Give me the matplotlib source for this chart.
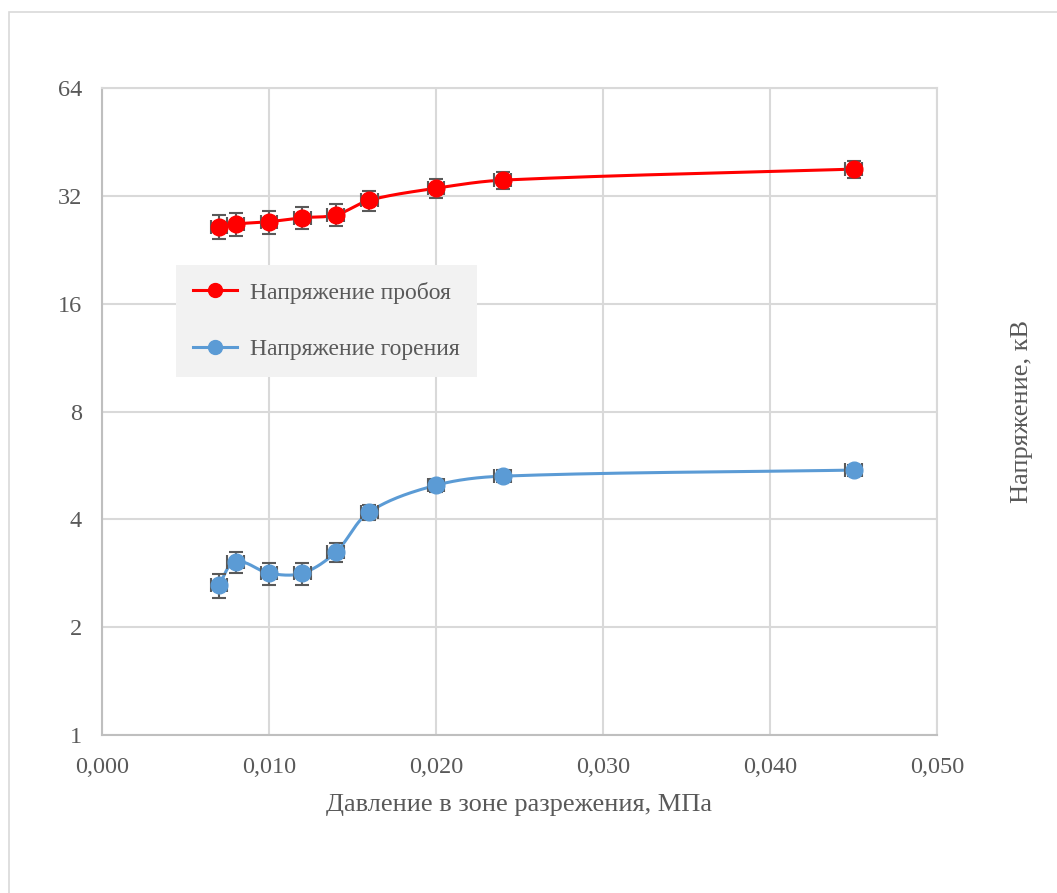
import numpy as np
import matplotlib.pyplot as plt
from matplotlib.patches import Rectangle
from matplotlib.ticker import FixedLocator, FuncFormatter

# данные
pressure = [0.007, 0.008, 0.010, 0.012, 0.014, 0.016, 0.020, 0.024, 0.045]
u_breakdown = [26.2, 26.7, 27.1, 27.8, 28.3, 31.1, 33.6, 35.4, 38.0]
u_burning = [2.62, 3.04, 2.83, 2.83, 3.24, 4.19, 4.98, 5.28, 5.49]
err_breakdown = 2.0
err_burning = 0.2
err_pressure = 0.0005
y_ticks = [1, 2, 4, 8, 16, 32, 64]
x_ticks = [0.0, 0.01, 0.02, 0.03, 0.04, 0.05]


def smooth(x, y, n=40):
    # сглаженная линия (Bezier), считаем в "пиксельных" координатах
    sx, sy = 835 / 0.05, 107.8
    P = np.column_stack([np.array(x) * sx, np.log2(np.array(y)) * sy])
    m = len(P)
    d = []
    for i in range(m):
        a, b = P[max(i - 1, 0)], P[min(i + 1, m - 1)]
        v = b - a
        d.append(v / np.linalg.norm(v))
    out = []
    t = np.linspace(0, 1, n)[:, None]
    for i in range(m - 1):
        L = np.linalg.norm(P[i + 1] - P[i])
        c1 = P[i] + d[i] * L / 3
        c2 = P[i + 1] - d[i + 1] * L / 3
        b = ((1 - t) ** 3 * P[i] + 3 * (1 - t) ** 2 * t * c1
             + 3 * (1 - t) * t ** 2 * c2 + t ** 3 * P[i + 1])
        out.append(b)
    out = np.vstack(out)
    return out[:, 0] / sx, 2 ** (out[:, 1] / sy)


plt.rcParams['font.family'] = ['Liberation Serif', 'DejaVu Serif']
txt = '#595959'

fig = plt.figure(figsize=(10.57, 8.93), dpi=100)
ax = fig.add_axes([102 / 1057, 1 - 735 / 893, 835 / 1057, 647 / 893])

# внешняя рамка
fig.patches.append(Rectangle((9 / 1057, -0.1), 1.2, 0.1 + (893 - 12) / 893,
                             transform=fig.transFigure, fill=False,
                             edgecolor='#D9D9D9', lw=1.2))

series = [
    (u_breakdown, err_breakdown, '#FF0000', 'Напряжение пробоя'),
    (u_burning, err_burning, '#5B9BD5', 'Напряжение горения'),
]
for vals, err, col, name in series:
    sx, sy = smooth(pressure, vals)
    ax.plot(sx, sy, color=col, lw=2.2, zorder=3)
    ax.errorbar(pressure, vals, yerr=err, xerr=err_pressure, fmt='none',
                ecolor='#595959', elinewidth=1.5, capsize=5, capthick=1.5, zorder=4)
    ax.plot(pressure, vals, 'o', color=col, ms=12, zorder=5)
    ax.plot([], [], '-o', color=col, lw=2.2, ms=10, label=name)

ax.set_yscale('log', base=2)
ax.set_ylim(1, 64)
ax.set_xlim(0, 0.05)
ax.yaxis.set_major_locator(FixedLocator(y_ticks))
ax.yaxis.set_minor_locator(FixedLocator([]))
ax.yaxis.set_major_formatter(FuncFormatter(lambda v, p: '%d' % v))
ax.xaxis.set_major_locator(FixedLocator(x_ticks))
ax.xaxis.set_major_formatter(FuncFormatter(lambda v, p: ('%.3f' % v).replace('.', ',')))

ax.grid(True, color='#D9D9D9', lw=1.5)
ax.set_axisbelow(True)
for s in ['top', 'right']:
    ax.spines[s].set_color('#D9D9D9')
    ax.spines[s].set_linewidth(1.5)
for s in ['left', 'bottom']:
    ax.spines[s].set_color('#BFBFBF')
    ax.spines[s].set_linewidth(1.5)
ax.tick_params(length=0, labelsize=17.5, labelcolor=txt)
ax.tick_params(axis='y', pad=14.5)
ax.tick_params(axis='x', pad=15.5)

ax.set_xlabel('Давление в зоне разрежения, МПа', fontsize=19, color=txt, labelpad=12)
ax.yaxis.set_label_position('right')
ax.set_ylabel('Напряжение, кВ', fontsize=19, color=txt, labelpad=53)

leg = ax.legend(loc='upper left', bbox_to_anchor=(74 / 835, (735 - 265) / 647),
                borderaxespad=0, fontsize=17, frameon=True, fancybox=False,
                handlelength=1.9, handletextpad=0.55, labelspacing=1.48,
                borderpad=0.7, labelcolor=txt)
leg.get_frame().set_facecolor('#F2F2F2')
leg.get_frame().set_edgecolor('none')
leg.get_frame().set_alpha(1)

fig.savefig('out.png', dpi=100)
